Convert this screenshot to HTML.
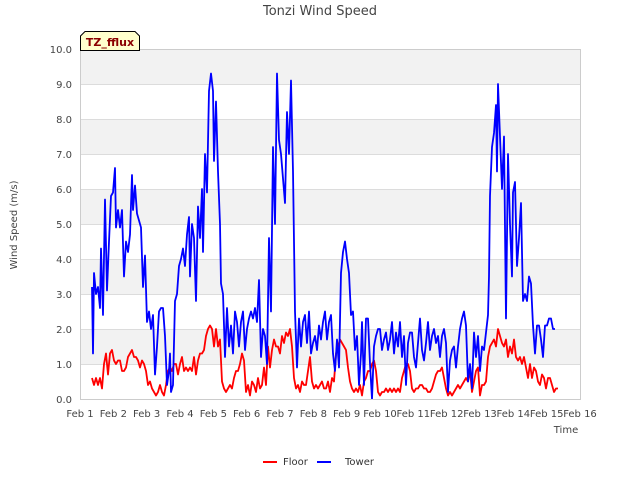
<!DOCTYPE html>
<html><head><meta charset="utf-8">
<style>
body{margin:0;background:#fff;}
svg{display:block;font-family:"DejaVu Sans","Liberation Sans",sans-serif;}
</style></head>
<body>
<svg id="chart" width="640" height="480" viewBox="0 0 640 480">
<text x="320" y="15" text-anchor="middle" font-size="13" fill="#444">Tonzi Wind Speed</text>
<g id="bands"></g>
<g id="grid"></g>
<g id="yticks"></g>
<g id="xticks"></g>
<g id="series"></g>
<rect x="80.5" y="49.5" width="500" height="350" fill="none" stroke="#ccc"/>
<text transform="translate(17,225) rotate(-90)" text-anchor="middle" font-size="10" fill="#444">Wind Speed (m/s)</text>
<text x="566" y="433" text-anchor="middle" font-size="10" fill="#444">Time</text>
<g>
<path d="M80.5,50.5 L80.5,36 L85,31.5 L135,31.5 L139.5,36 L139.5,50.5 Z" fill="#ffffcc" stroke="#000" stroke-width="1"/>
<text x="110" y="46" text-anchor="middle" font-size="11" font-weight="bold" fill="#8b0000">TZ_fflux</text>
</g>
<g>
<line x1="263" y1="462" x2="277" y2="462" stroke="#ff0000" stroke-width="2"/>
<text x="283" y="465" font-size="10" fill="#333">Floor</text>
<line x1="317" y1="462" x2="331" y2="462" stroke="#0000ff" stroke-width="2"/>
<text x="345" y="465" font-size="10" fill="#333">Tower</text>
</g>
</svg>
<script>
const xTickLabels=["Feb 1","Feb 2","Feb 3","Feb 4","Feb 5","Feb 6","Feb 7","Feb 8","Feb 9","Feb 10","Feb 11","Feb 12","Feb 13","Feb 14","Feb 15","Feb 16"];
const yTicks=[0,1,2,3,4,5,6,7,8,9,10];
const towerDays=[0.36,0.39,0.42,0.48,0.54,0.60,0.63,0.69,0.75,0.81,0.87,0.93,0.99,1.05,1.08,1.14,1.20,1.26,1.32,1.38,1.44,1.50,1.56,1.59,1.65,1.71,1.77,1.83,1.89,1.95,2.01,2.07,2.13,2.19,2.25,2.31,2.37,2.43,2.49,2.55,2.61,2.67,2.70,2.73,2.79,2.85,2.91,2.97,3.03,3.09,3.15,3.21,3.27,3.30,3.36,3.42,3.48,3.54,3.60,3.66,3.69,3.75,3.81,3.87,3.93,3.99,4.02,4.08,4.14,4.20,4.23,4.29,4.35,4.41,4.47,4.53,4.59,4.65,4.71,4.77,4.83,4.89,4.95,5.01,5.07,5.13,5.19,5.25,5.31,5.37,5.43,5.49,5.55,5.61,5.67,5.73,5.79,5.85,5.91,5.97,6.03,6.09,6.15,6.21,6.27,6.33,6.39,6.45,6.51,6.57,6.63,6.69,6.75,6.81,6.87,6.93,6.99,7.05,7.11,7.17,7.23,7.29,7.35,7.41,7.47,7.53,7.59,7.65,7.71,7.77,7.83,7.89,7.95,8.01,8.07,8.13,8.19,8.25,8.31,8.37,8.43,8.46,8.52,8.58,8.64,8.70,8.76,8.82,8.88,8.94,9.00,9.06,9.12,9.18,9.24,9.30,9.36,9.42,9.48,9.54,9.60,9.66,9.72,9.78,9.84,9.90,9.96,10.02,10.08,10.14,10.20,10.26,10.32,10.38,10.44,10.50,10.56,10.62,10.68,10.74,10.80,10.86,10.92,10.98,11.04,11.10,11.16,11.22,11.28,11.34,11.40,11.46,11.52,11.58,11.64,11.70,11.76,11.82,11.88,11.94,12.00,12.06,12.12,12.18,12.24,12.27,12.30,12.36,12.42,12.48,12.51,12.54,12.60,12.66,12.72,12.78,12.84,12.90,12.96,12.99,13.05,13.11,13.17,13.23,13.29,13.35,13.41,13.47,13.53,13.59,13.65,13.71,13.77,13.83,13.89,13.95,14.01,14.07,14.13,14.19,14.25];
const towerValues=[3.2,1.3,3.6,3.0,3.2,2.6,4.3,2.4,5.7,3.1,4.5,5.8,5.9,6.6,4.9,5.4,4.9,5.4,3.5,4.5,4.2,4.7,6.4,5.4,6.1,5.3,5.1,4.9,3.2,4.1,2.2,2.5,2.0,2.4,0.7,1.5,2.5,2.6,2.6,1.8,0.4,0.8,1.3,0.2,0.4,2.8,3.0,3.8,4.0,4.3,3.8,4.7,5.2,3.5,5.0,4.6,2.8,5.5,4.6,6.0,4.2,7.0,5.9,8.8,9.3,8.8,6.8,8.5,6.5,5.0,3.3,3.0,1.2,2.6,1.5,2.1,1.3,2.5,2.2,1.5,2.2,2.5,1.4,2.0,2.3,2.5,2.3,2.6,2.2,3.4,1.2,2.0,1.8,1.0,4.6,2.5,7.2,5.0,9.3,7.4,7.0,6.3,5.6,8.2,7.0,9.1,6.5,2.5,0.9,2.3,1.5,2.2,2.4,1.6,2.5,1.3,1.6,1.8,1.4,2.1,1.7,2.2,2.5,1.7,2.2,2.4,1.3,0.8,1.7,0.9,3.6,4.2,4.5,4.0,3.6,2.4,2.5,1.4,1.8,0.4,1.3,2.2,0.4,2.3,2.3,1.0,0.0,1.5,1.8,2.0,2.0,1.4,1.7,1.9,1.4,1.7,2.2,1.3,1.9,1.5,2.2,1.2,1.8,0.4,1.6,1.9,1.9,1.2,0.9,1.6,2.3,1.4,1.1,1.6,2.2,1.4,1.8,2.0,1.6,1.8,1.2,1.8,2.0,1.6,0.2,1.1,1.4,1.5,0.9,1.5,2.0,2.3,2.5,2.1,0.5,1.0,0.3,1.9,1.2,1.8,0.8,1.5,1.4,1.9,2.4,3.5,5.8,7.2,7.6,8.4,6.5,9.0,7.5,6.0,7.5,2.3,7.0,5.0,3.5,5.9,6.2,3.8,4.6,5.6,2.8,3.0,2.8,3.5,3.3,2.1,1.3,2.1,2.1,1.7,1.2,2.1,2.1,2.3,2.3,2.0,2.0];
const floorStartDay=0.36;
const floorStepDays=0.06;
const floorValues=[0.6,0.4,0.6,0.4,0.6,0.3,1.0,1.3,0.7,1.3,1.4,1.1,1.0,1.1,1.1,0.8,0.8,0.9,1.2,1.3,1.4,1.2,1.2,1.1,0.9,1.1,1.0,0.8,0.4,0.5,0.3,0.2,0.1,0.2,0.4,0.2,0.1,0.4,0.8,0.9,0.8,1.0,1.0,0.7,1.0,1.2,0.8,0.9,0.8,0.9,0.8,1.2,0.7,1.1,1.3,1.3,1.4,1.8,2.0,2.1,2.0,1.5,2.0,1.5,1.7,0.5,0.3,0.2,0.3,0.4,0.3,0.6,0.8,0.8,1.0,1.3,1.1,0.2,0.4,0.1,0.5,0.4,0.2,0.6,0.3,0.4,0.9,0.4,1.5,0.9,1.4,1.7,1.5,1.5,1.3,1.8,1.6,1.9,1.8,2.0,1.5,0.6,0.3,0.4,0.2,0.5,0.4,0.4,0.8,1.2,0.5,0.3,0.4,0.3,0.4,0.5,0.3,0.3,0.5,0.2,0.6,0.5,1.3,1.5,1.7,1.6,1.5,1.4,0.9,0.5,0.3,0.2,0.3,0.2,0.4,0.1,0.5,0.6,0.8,0.8,1.0,1.1,0.8,0.2,0.1,0.2,0.2,0.3,0.2,0.3,0.2,0.3,0.2,0.3,0.2,0.6,0.8,1.0,1.0,0.8,0.3,0.2,0.3,0.3,0.4,0.4,0.3,0.3,0.2,0.2,0.3,0.5,0.7,0.8,0.8,0.9,0.6,0.3,0.1,0.2,0.1,0.2,0.3,0.4,0.3,0.4,0.5,0.6,0.5,0.8,0.2,0.5,0.8,0.9,0.1,0.4,0.4,0.5,1.2,1.5,1.6,1.7,1.5,2.0,1.8,1.6,1.5,1.7,1.2,1.5,1.3,1.7,1.2,1.1,1.2,1.0,1.2,0.9,0.6,1.0,0.6,0.9,0.8,0.5,0.4,0.7,0.6,0.3,0.6,0.6,0.4,0.2,0.3,0.3];

const NS="http://www.w3.org/2000/svg";
const X0=80,X1=580,Y0=399,Y1=49,XMAX=15,YMAX=10;
function xScale(d){return X0+(X1-X0)*d/XMAX;}
function yScale(v){return Y0-(Y0-Y1)*v/YMAX;}
function mk(tag,attrs,parent){const e=document.createElementNS(NS,tag);for(const k in attrs)e.setAttribute(k,attrs[k]);parent.appendChild(e);return e;}
const bands=document.getElementById('bands'),grid=document.getElementById('grid'),yt=document.getElementById('yticks'),xt=document.getElementById('xticks'),ser=document.getElementById('series');
for(let i=0;i<yTicks.length-1;i++){
  if(i%2===1){
    const r=mk('rect',{x:X0,y:yScale(yTicks[i+1]),width:X1-X0,height:yScale(yTicks[i])-yScale(yTicks[i+1]),fill:'#f2f2f2'},bands);
    
    
  }
}
yTicks.forEach(v=>{
  const y=Math.round(yScale(v))+0.5;
  const l=mk('line',{x1:X0,x2:X1,y1:y,y2:y,stroke:'#dcdcdc','stroke-width':1},grid);
  
  
  const t=mk('text',{x:72,y:yScale(v)+4,'text-anchor':'end','font-size':10,fill:'#444'},yt);
  t.textContent=v.toFixed(1);
  
  
});
xTickLabels.forEach((s,i)=>{
  const t=mk('text',{x:xScale(i),y:417,'text-anchor':'middle','font-size':10,fill:'#444'},xt);
  t.textContent=s;
  
  
});
function linePath(days,vals){return vals.map((v,i)=>(i?'L':'M')+xScale(days[i]).toFixed(1)+','+yScale(v).toFixed(1)).join(' ');}
const floorDays=floorValues.map((v,i)=>floorStartDay+i*floorStepDays);
const pf=mk('path',{d:linePath(floorDays,floorValues),fill:'none',stroke:'#ff0000','stroke-width':1.8,'stroke-linejoin':'round'},ser);


const pt=mk('path',{d:linePath(towerDays,towerValues),fill:'none',stroke:'#0000ff','stroke-width':1.8,'stroke-linejoin':'round'},ser);


</script>
</body></html>
